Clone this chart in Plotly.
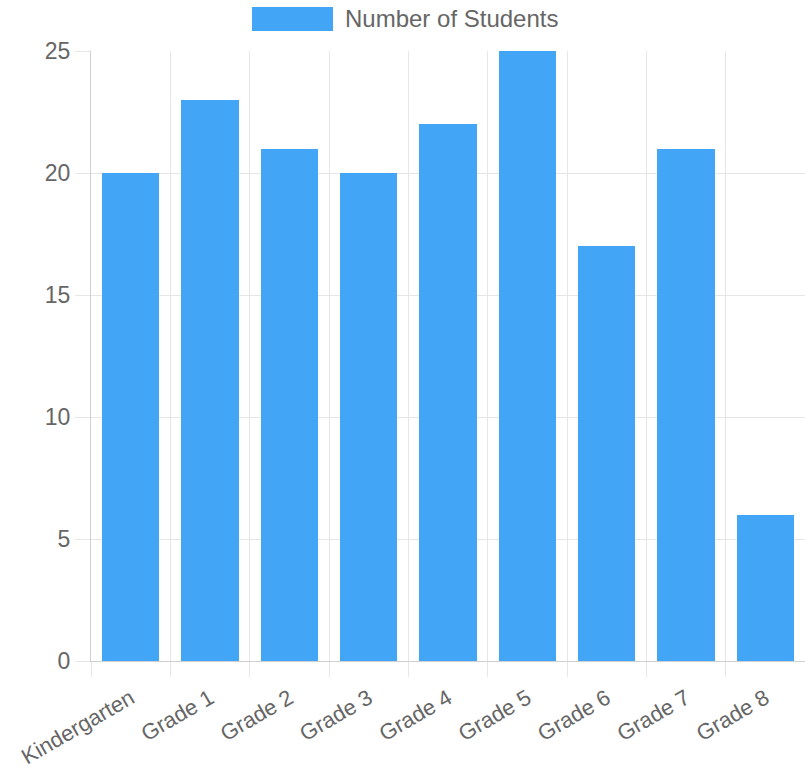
import plotly.graph_objects as go

categories = ["Kindergarten", "Grade 1", "Grade 2", "Grade 3", "Grade 4",
              "Grade 5", "Grade 6", "Grade 7", "Grade 8"]
students = [20, 23, 21, 20, 22, 25, 17, 21, 6]
series_name = "Number of Students"
y_ticks = [0, 5, 10, 15, 20, 25]

BAR = "#42A5F5"
GRID = "#e6e6e6"
AXIS = "#cfcfcf"
TXT = "#666666"
FONT = "Liberation Sans, Arial, Helvetica, sans-serif"

xpos = list(range(len(categories)))
bounds = [i - 0.5 for i in range(len(categories) + 1)]

fig = go.Figure(go.Bar(x=xpos, y=students, width=0.72, marker=dict(color=BAR, line=dict(width=0)),
                       name=series_name, showlegend=False))

fig.update_layout(
    width=805, height=776,
    margin=dict(l=91, r=0, t=51, b=115),
    paper_bgcolor="white", plot_bgcolor="white",
    font=dict(family=FONT, size=23, color=TXT),
    bargap=0,
)
fig.update_xaxes(
    range=[-0.5, len(categories) - 0.5],
    tickmode="array", tickvals=xpos, ticktext=categories,
    tickangle=-30, ticks="outside", ticklen=15, tickcolor="rgba(0,0,0,0)",
    showgrid=False, showline=True, linecolor=AXIS, linewidth=1,
    zeroline=False,
    minor=dict(tickmode="array", tickvals=bounds, ticks="outside", ticklen=15,
               tickcolor=GRID, showgrid=True, gridcolor=GRID, gridwidth=1),
    tickfont=dict(size=22, color=TXT),
)
fig.update_yaxes(
    range=[0, 25], tickmode="array", tickvals=y_ticks,
    ticks="outside", ticklen=15, tickcolor=GRID,
    showgrid=True, gridcolor=GRID, gridwidth=1,
    showline=True, linecolor=AXIS, linewidth=1, zeroline=False,
    tickfont=dict(size=23, color=TXT),
)

# legend drawn manually (Chart.js style wide swatch)
fig.add_shape(type="rect", xref="paper", yref="paper",
              x0=(252 - 91) / 714, x1=(333 - 91) / 714,
              y0=(661 - 31) / 610, y1=(661 - 7) / 610,
              fillcolor=BAR, line=dict(width=0))
fig.add_annotation(text=series_name, xref="paper", yref="paper",
                   x=(343 - 91) / 714, y=(661 - 18) / 610,
                   xanchor="left", yanchor="middle", showarrow=False,
                   font=dict(size=24, color=TXT, family=FONT))

fig.write_html("out.html")
